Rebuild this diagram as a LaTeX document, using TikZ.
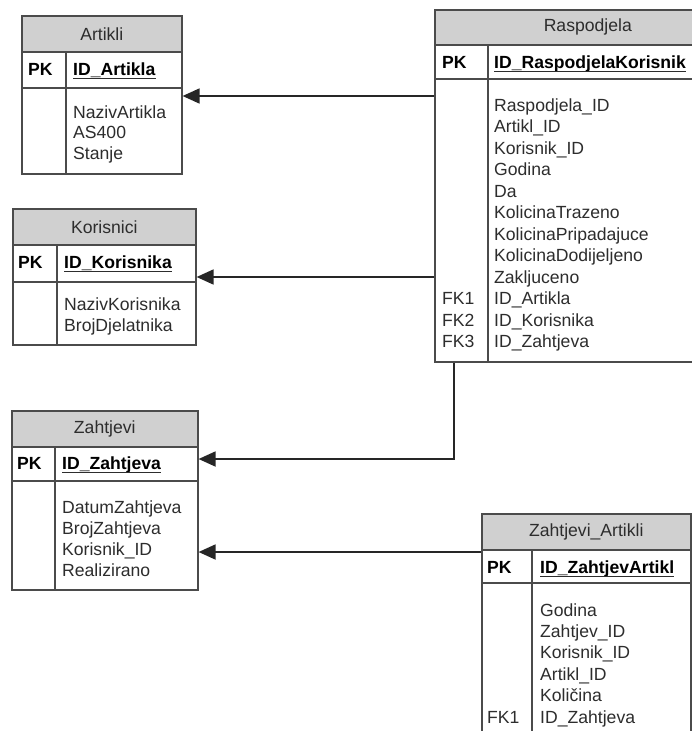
\documentclass[tikz,border=0pt]{standalone}
\usepackage{fontspec}
\setmainfont{Liberation Sans}
\usetikzlibrary{arrows.meta}
\definecolor{hdr}{RGB}{208,208,208}
\definecolor{bord}{RGB}{75,75,75}
\definecolor{txt}{RGB}{45,45,45}
\tikzset{
  tbl/.style={draw=bord, line width=1.6pt, fill=white, inner sep=0pt},
  hdrbox/.style={draw=bord, line width=1.6pt, fill=hdr, inner sep=0pt, text=txt},
  bordline/.style={draw=bord, line width=1.6pt},
  fieldtxt/.style={anchor=base west, inner sep=0pt, text=txt},
  keyt/.style={anchor=base west, inner sep=0pt, text=black, font=\fontsize{17.6}{21.3}\selectfont\bfseries},
  pkt/.style={anchor=base west, inner sep=0pt, text=black, font=\fontsize{17.6}{21.3}\selectfont\bfseries},
  ulline/.style={draw=txt, line width=1.4pt},
  fk/.style={draw=black!85, line width=1.8pt, -{Triangle[length=17pt,width=15pt]}}
}
% #1 name, #2 left, #3 top, #4 right, #5 bottom, #6 header bottom, #7 pk bottom, #8 divider x, #9 title
\newcommand{\tablebox}[9]{%
  \node[tbl, anchor=north west, minimum width={#4-#2}, minimum height={#5-#3}] (#1) at (#2,#3) {};
  \node[hdrbox, anchor=north west, minimum width={#4-#2}, minimum height={#6-#3}] (#1-h) at (#1.north west) {#9};
  \draw[bordline] (#1.west |- 0,#7) -- (#1.east |- 0,#7);
  \draw[bordline] (#8,#6) -- (#8,#5);
}
% #1 name, #2 x, #3 baseline y, #4 text
\newcommand{\keyfield}[4]{%
  \node[keyt] (#1) at (#2,#3) {#4};
  \draw[ulline] ([yshift=-3.5pt]#1.base west) -- ([yshift=-3.5pt]#1.base east);
}
\begin{document}
\begin{tikzpicture}[x=1pt,y=-1pt,font=\fontsize{17.6}{21.3}\selectfont]
\useasboundingbox (0,0) rectangle (692,731);
\fill[white] (0,0) rectangle (692,731);
\clip (0,0) rectangle (692,731);

% Artikli
\tablebox{art}{21}{15}{181}{173}{51}{88}{66}{Artikli}
\node[pkt] (art-pk) at (28,75) {PK};
\keyfield{art-key}{73}{75}{ID\_Artikla}
\foreach \t [count=\i from 0] in {NazivArtikla,AS400,Stanje}
  \node[fieldtxt] (art-f\i) at (73,118+\i*20.7) {\t};

% Korisnici
\tablebox{kor}{12}{208}{195}{344}{244}{282}{57}{Korisnici}
\node[pkt] (kor-pk) at (18,268) {PK};
\keyfield{kor-key}{64}{268}{ID\_Korisnika}
\foreach \t [count=\i from 0] in {NazivKorisnika,BrojDjelatnika}
  \node[fieldtxt] (kor-f\i) at (64,310+\i*21.5) {\t};

% Zahtjevi
\tablebox{zah}{11}{410}{197}{589}{446}{481}{55}{Zahtjevi}
\node[pkt] (zah-pk) at (17,469) {PK};
\keyfield{zah-key}{62}{469}{ID\_Zahtjeva}
\foreach \t [count=\i from 0] in {DatumZahtjeva,BrojZahtjeva,Korisnik\_ID,Realizirano}
  \node[fieldtxt] (zah-f\i) at (62,513+\i*21) {\t};

% Raspodjela
\tablebox{rasp}{434}{9}{740}{361}{44}{79}{488}{Raspodjela}
\node[pkt] (rasp-pk) at (442,68) {PK};
\keyfield{rasp-key}{494}{68}{ID\_RaspodjelaKorisnik}
\foreach \t [count=\i from 0] in {Raspodjela\_ID,Artikl\_ID,Korisnik\_ID,Godina,Da,KolicinaTrazeno,KolicinaPripadajuce,KolicinaDodijeljeno,Zakljuceno,ID\_Artikla,ID\_Korisnika,ID\_Zahtjeva}
  \node[fieldtxt] (rasp-f\i) at (494,111+\i*21.5) {\t};
\foreach \t [count=\i from 9] in {FK1,FK2,FK3}
  \node[fieldtxt] (rasp-fk\i) at (442,111+\i*21.5) {\t};

% Zahtjevi_Artikli
\tablebox{za}{481}{513}{690}{770}{549}{583}{532}{Zahtjevi\_Artikli}
\node[pkt] (za-pk) at (487,573) {PK};
\keyfield{za-key}{540}{573}{ID\_ZahtjevArtikl}
\foreach \t [count=\i from 0] in {Godina,Zahtjev\_ID,Korisnik\_ID,Artikl\_ID,Količina,ID\_Zahtjeva}
  \node[fieldtxt] (za-f\i) at (540,616+\i*21.4) {\t};
\node[fieldtxt] (za-fk) at (487,616+5*21.4) {FK1};

% connectors
\coordinate (bend) at (454,459);
\draw[fk] (rasp.west |- 0,96) -- (art.east |- 0,96);
\draw[fk] (rasp.west |- 0,277) -- (kor.east |- 0,277);
\draw[fk] (rasp.south -| bend) -- (bend) -- (zah.east |- bend);
\draw[fk] (za.west |- 0,552) -- (zah.east |- 0,552);
\end{tikzpicture}
\end{document}
